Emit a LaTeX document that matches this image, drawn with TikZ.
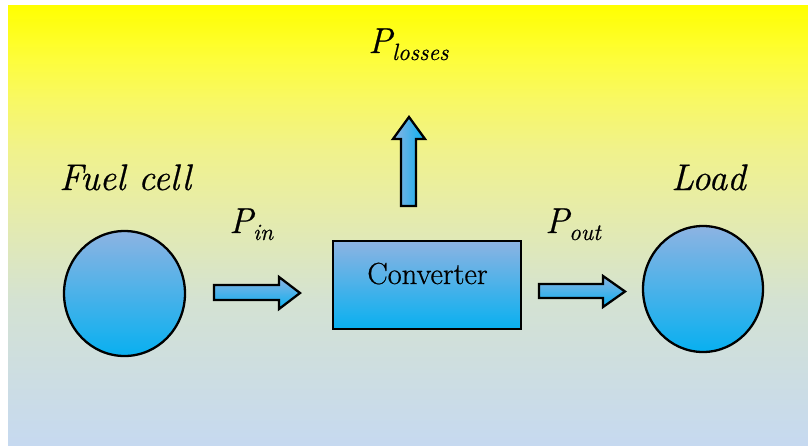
\documentclass[tikz,border=0pt]{standalone}
\usepackage{fontspec}
\setmainfont{Latin Modern Roman}[UprightFeatures={FakeBold=0.6}, ItalicFeatures={FakeBold=0.6}]
\usetikzlibrary{shapes.geometric}
\definecolor{bga}{RGB}{255,255,0}
\definecolor{bgb}{RGB}{253,253,60}
\definecolor{bgc}{RGB}{248,248,100}
\definecolor{bgd}{RGB}{240,242,140}
\definecolor{bge}{RGB}{232,237,165}
\definecolor{bgf}{RGB}{212,226,210}
\definecolor{bgg}{RGB}{198,217,240}
\definecolor{shtop}{RGB}{141,179,226}
\definecolor{shbot}{RGB}{8,176,240}
\pgfdeclareverticalshading{bgshade}{100bp}{color(0bp)=(bgg); color(25bp)=(bgg); color(41.5bp)=(bgf); color(52.8bp)=(bge); color(58.5bp)=(bgd); color(64.2bp)=(bgc); color(68.75bp)=(bgb); color(75bp)=(bga); color(100bp)=(bga)}
\tikzset{
  outl/.style={draw=black, line width=2.3pt, line join=miter},
  vfill/.style={top color=shtop, bottom color=shbot},
  hfill/.style={left color=shtop, right color=shbot},
  lbl/.style={anchor=base west, inner sep=0pt, font=\fontsize{37}{37}\selectfont\itshape},
  plbl/.style={anchor=base west, inner sep=0pt, font=\fontsize{36}{36}\selectfont\itshape},
}
\newcommand\psubtxt[1]{P\raisebox{-7pt}{\fontsize{23.5}{23.5}\selectfont\itshape #1}}
\begin{document}
\begin{tikzpicture}[x=1pt,y=1pt]
\useasboundingbox (0,0) rectangle (808,-445);
\shade[shading=bgshade] (8,-5) rectangle (808,-445);

% circles
\node[ellipse, outl, vfill, minimum width=121pt, minimum height=125pt, inner sep=0pt] (fc) at (124.5,-293.5) {};
\node[ellipse, outl, vfill, minimum width=120pt, minimum height=126pt, inner sep=0pt] (load) at (703,-289) {};

% converter
\node[rectangle, outl, vfill, minimum width=188pt, minimum height=88pt, inner sep=0pt] (conv) at (427,-285) {};
\node[anchor=base, inner sep=0pt, font=\fontsize{30.5}{30.5}\selectfont] (convtxt) at (427.5,-284) {Converter};

% block arrows
\path[outl, vfill] (214,-285) -- (279,-285) -- (279,-277) -- (300,-293) -- (279,-309) -- (279,-300) -- (214,-300) -- cycle;
\path[outl, vfill] (539,-284) -- (603,-284) -- (603,-276) -- (625,-291.5) -- (603,-307) -- (603,-298) -- (539,-298) -- cycle;
\path[outl, hfill] (401,-206) -- (401,-139) -- (393,-139) -- (409,-117) -- (425,-139) -- (416,-139) -- (416,-206) -- cycle;

% labels
\node[lbl] (fctxt) at (59,-190) {Fuel cell};
\node[lbl] (loadtxt) at (671,-190) {Load};
\node[plbl] (ploss) at (368,-53) {\psubtxt{losses}};
\node[plbl] (pin) at (229,-233) {\psubtxt{in}};
\node[plbl] (pout) at (545,-233) {\psubtxt{out}};
\end{tikzpicture}
\end{document}
